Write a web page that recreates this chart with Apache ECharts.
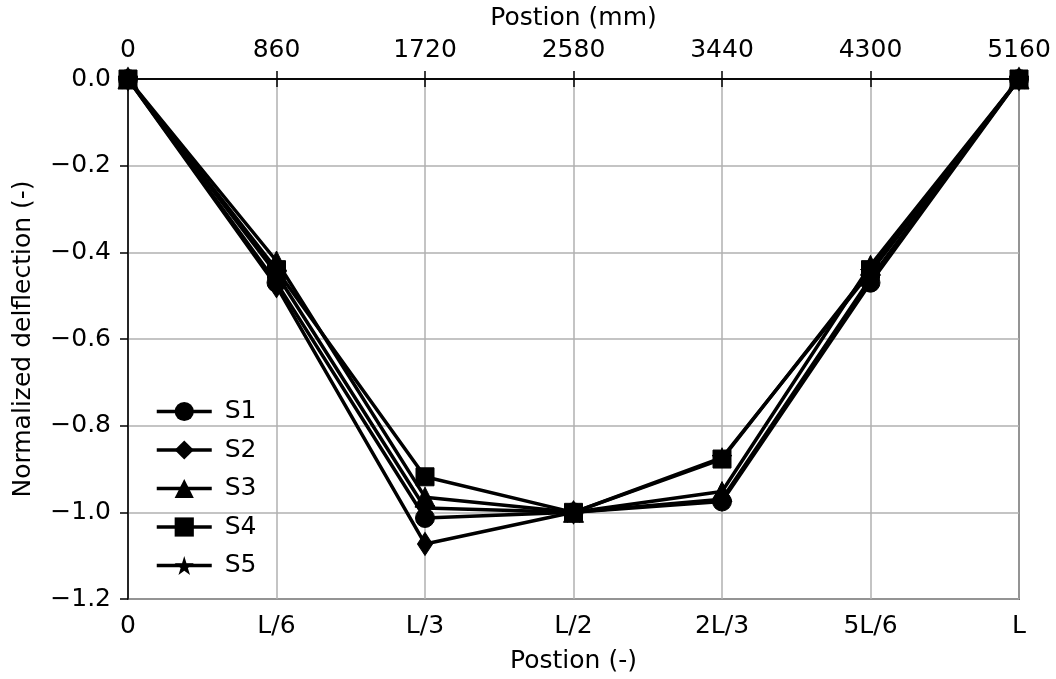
<!DOCTYPE html>
<html>
<head>
<meta charset="utf-8">
<script src="https://cdn.jsdelivr.net/npm/echarts@6/dist/echarts.min.js"></script>
<style>
  html, body { margin: 0; padding: 0; background: #fff; }
  #chart { width: 1056px; height: 679px; }
</style>
</head>
<body>
<div id="chart"></div>
<script>
// positions along the span, in sixths of L
const positions = [0, 1, 2, 3, 4, 5, 6]
const bottomLabels = ['0', 'L/6', 'L/3', 'L/2', '2L/3', '5L/6', 'L']
const topTicksMm = [0, 860, 1720, 2580, 3440, 4300, 5160]

const seriesNames = ['S1', 'S2', 'S3', 'S4', 'S5']
const s1 = [0, -0.47, -1.013, -1.0, -0.975, -0.47, 0]
const s2 = [0, -0.478, -1.073, -1.0, -0.97, -0.46, 0]
const s3 = [0, -0.42, -0.965, -1.0, -0.952, -0.43, 0]
const s4 = [0, -0.44, -0.918, -1.0, -0.877, -0.44, 0]
const s5 = [0, -0.45, -0.99, -1.0, -0.874, -0.445, 0]

const starPath = 'path://M50,0 L61,35 L98,35 L68,57 L79,91 L50,70 L21,91 L32,57 L2,35 L39,35 Z'
const markers = [
  { symbol: 'circle', size: 19 },
  { symbol: 'diamond', size: [15, 23] },
  { symbol: 'triangle', size: 20 },
  { symbol: 'rect', size: 18 },
  { symbol: starPath, size: 20 }
]
const allData = [s1, s2, s3, s4, s5]

const font = 'DejaVu Sans'
const fs = 25
const chart = echarts.init(document.getElementById('chart'))

const option = {
  animation: false,
  textStyle: { fontFamily: font },
  grid: {
    left: 128, right: 37, top: 79, bottom: 79,
    show: true, borderColor: '#000', borderWidth: 1.5, backgroundColor: 'transparent'
  },
  legend: {
    orient: 'vertical',
    left: 150, top: 394,
    itemWidth: 55, itemHeight: 24, itemGap: 13.5,
    lineStyle: { width: 3.5, color: '#000' },
    textStyle: { fontSize: fs, color: '#000', fontFamily: font, lineHeight: 24, padding: [0, 0, 0, 8] },
    data: seriesNames
  },
  xAxis: [{
    type: 'value', min: 0, max: 6, interval: 1, position: 'bottom',
    name: 'Postion (-)', nameLocation: 'middle', nameGap: 50,
    nameTextStyle: { fontSize: fs, color: '#000', fontFamily: font },
    axisLine: { lineStyle: { color: '#000', width: 1.5 } },
    axisTick: { show: true, length: 8, lineStyle: { color: '#000', width: 1.5 } },
    axisLabel: { fontSize: fs, color: '#000', margin: 15, formatter: v => bottomLabels[v] },
    splitLine: { show: true, lineStyle: { color: '#b0b0b0', width: 1.5 } }
  }, {
    type: 'value', min: 0, max: 5160, interval: 860, position: 'top',
    name: 'Postion (mm)', nameLocation: 'middle', nameGap: 48,
    nameTextStyle: { fontSize: fs, color: '#000', fontFamily: font },
    axisLine: { lineStyle: { color: '#000', width: 1.5 } },
    axisTick: { show: true, length: 8, lineStyle: { color: '#000', width: 1.5 } },
    axisLabel: { fontSize: fs, color: '#000', margin: 16, formatter: v => String(v) },
    splitLine: { show: false }
  }],
  yAxis: {
    type: 'value', min: -1.2, max: 0, interval: 0.2,
    name: 'Normalized delflection (-)', nameLocation: 'middle', nameGap: 92,
    nameTextStyle: { fontSize: fs, color: '#000', fontFamily: font },
    axisLine: { show: true, lineStyle: { color: '#000', width: 1.5 } },
    axisTick: { show: true, length: 8, lineStyle: { color: '#000', width: 1.5 } },
    axisLabel: { fontSize: fs, color: '#000', margin: 17,
      formatter: v => v.toFixed(1).replace('-', '\u2212') },
    splitLine: { show: true, lineStyle: { color: '#b0b0b0', width: 1.5 } }
  },
  series: allData.map((d, i) => ({
    name: seriesNames[i],
    type: 'line',
    xAxisIndex: 0,
    data: positions.map((p, j) => [p, d[j]]),
    symbol: markers[i].symbol,
    symbolSize: markers[i].size,
    showAllSymbol: true,
    lineStyle: { color: '#000', width: 3.5 },
    itemStyle: { color: '#000', borderColor: '#000' },
    emphasis: { disabled: true }
  }))
}
chart.setOption(option)
</script>
</body>
</html>
